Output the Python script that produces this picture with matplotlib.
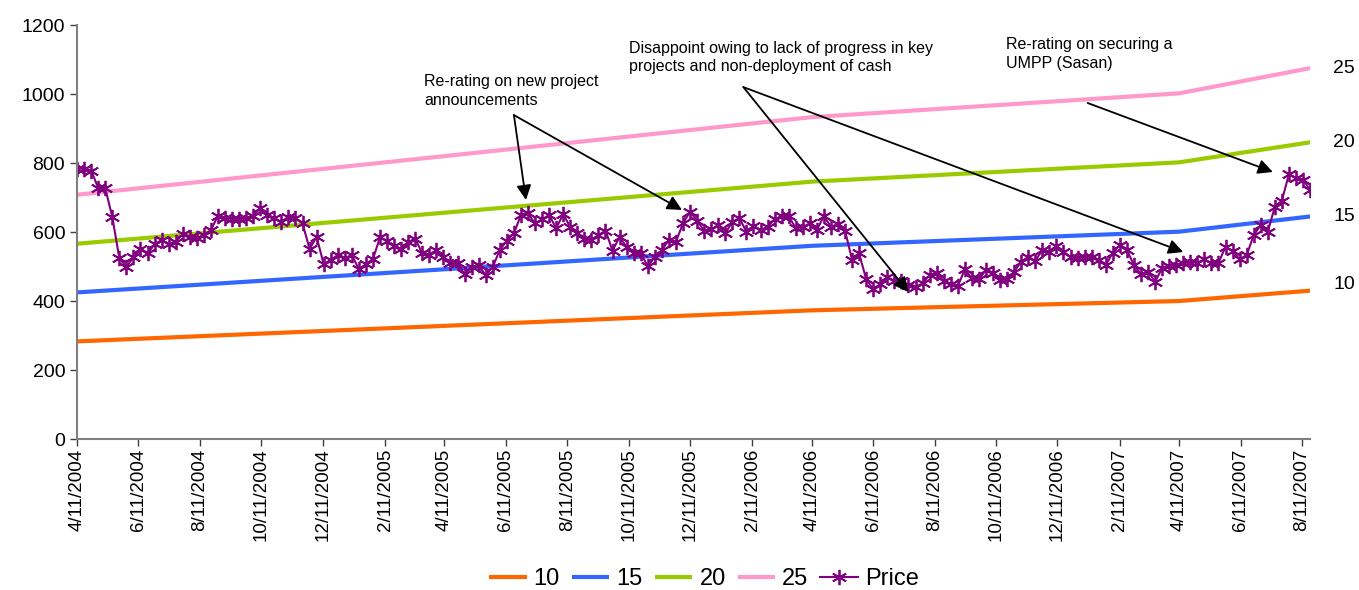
import numpy as np
import pandas as pd
import matplotlib
matplotlib.use("Agg")
import matplotlib.pyplot as plt
import matplotlib.dates as mdates
from matplotlib import transforms

plt.rcParams['font.family'] = ['Liberation Sans', 'DejaVu Sans']

# weekly closing price
price_start = "2004-04-11"
price = [
    784, 783, 778, 728, 727, 644, 524, 499, 527, 550, 538, 564, 577, 564, 572, 594,
    586, 582, 591, 606, 647, 641, 638, 638, 640, 647, 669, 649, 640, 630, 644,
    640, 625, 551, 586, 507, 519, 533, 524, 533, 492, 507, 522, 585, 575, 560, 551,
    570, 580, 538, 533, 548, 527, 509, 509, 478, 499, 504, 475, 499, 548,
    575, 596, 649, 654, 625, 637, 649, 611, 652, 614, 598, 579, 577, 591, 604, 546,
    586, 557, 538, 538, 501, 527, 548, 577, 572, 625, 659, 633, 604,
    608, 620, 596, 630, 640, 601, 617, 606, 615, 637, 646, 646, 611, 615, 625, 606,
    646, 615, 623, 604, 519, 538, 463, 434, 449, 469, 459, 458, 447, 441,
    451, 475, 482, 458, 448, 443, 492, 466, 463, 490, 482, 461, 463, 485, 514, 528,
    517, 548, 543, 559, 543, 527, 524, 528, 528, 519, 504, 540, 562,
    548, 504, 478, 485, 456, 495, 501, 504, 509, 514, 511, 521, 509, 511, 557, 545,
    521, 533, 591, 620, 601, 673, 691, 768, 756, 752, 722,
]
price_dates = pd.date_range(price_start, periods=len(price), freq="7D")

# P/E band values at the EPS reset dates
band_dates = pd.to_datetime(["2004-04-11", "2005-04-11", "2006-04-11",
                             "2007-04-11", str(price_dates[-1].date())])
band_10 = [283, 328, 373, 400, 430]
band_15 = [425, 492, 560, 601, 645]
band_20 = [566, 656, 746, 802, 860]
band_25 = [708, 820, 933, 1002, 1075]

band_labels = ["10", "15", "20", "25"]
band_colors = ["#FF6600", "#3366FF", "#99CC00", "#FF99CC"]

fig = plt.figure(figsize=(13.59, 5.9), dpi=100)
ax = fig.add_axes([0.0567, 0.2559, 0.9073, 0.7017])

for vals, lab, col in zip([band_10, band_15, band_20, band_25], band_labels, band_colors):
    ax.plot(band_dates, vals, color=col, lw=3, label=lab, solid_capstyle='butt')

ax.plot(price_dates, price, color="#800080", lw=1.5, marker=(6, 2, 0),
        markersize=11, markeredgewidth=1.3, label="Price")

ax.set_ylim(0, 1200)
ax.set_yticks(range(0, 1201, 200))
ax.set_xlim(pd.Timestamp("2004-04-11"), price_dates[-1])

ax.xaxis.set_major_locator(mdates.MonthLocator(bymonth=range(2, 13, 2), bymonthday=11))
ax.xaxis.set_major_formatter(plt.FuncFormatter(
    lambda x, pos: (lambda d: f"{d.month}/{d.day}/{d.year}")(mdates.num2date(x))))
plt.setp(ax.get_xticklabels(), rotation=90, fontsize=13.5)
plt.setp(ax.get_yticklabels(), fontsize=14)

for s in ["top", "right"]:
    ax.spines[s].set_visible(False)
for s in ["left", "bottom"]:
    ax.spines[s].set_color("#808080")
    ax.spines[s].set_linewidth(1.5)
ax.tick_params(axis="both", length=5, color="#404040", width=1)
ax.tick_params(axis="x", pad=2)

# multiple labels to the right of the bands
tr = transforms.blended_transform_factory(ax.transAxes, ax.transData)
for vals, lab in zip([band_10, band_15, band_20, band_25], band_labels):
    nudge = 18 if lab == "10" else 0
    ax.text(1.0186, vals[-1] + nudge, lab, transform=tr, fontsize=14,
            va="center", ha="left")

arrow = dict(arrowstyle="-|>", color="black", lw=1.3, mutation_scale=22,
             shrinkA=0, shrinkB=0)
d = pd.Timestamp

ax.text(d("2005-03-22"), 1058, "Re-rating on new project\nannouncements",
        fontsize=11.5, va="top", ha="left", linespacing=1.3)
ax.annotate("", xy=(d("2005-07-01"), 693), xytext=(d("2005-06-19"), 939), arrowprops=arrow)
ax.annotate("", xy=(d("2005-12-03"), 664), xytext=(d("2005-06-19"), 939), arrowprops=arrow)

ax.text(d("2005-10-11"), 1154,
        "Disappoint owing to lack of progress in key\nprojects and non-deployment of cash",
        fontsize=11.5, va="top", ha="left", linespacing=1.3)
ax.annotate("", xy=(d("2006-07-16"), 426), xytext=(d("2006-02-02"), 1020), arrowprops=arrow)
ax.annotate("", xy=(d("2007-04-15"), 542), xytext=(d("2006-02-02"), 1020), arrowprops=arrow)

ax.text(d("2006-10-21"), 1165, "Re-rating on securing a\nUMPP (Sasan)",
        fontsize=11.5, va="top", ha="left", linespacing=1.3)
ax.annotate("", xy=(d("2007-07-13"), 774), xytext=(d("2007-01-10"), 974), arrowprops=arrow)

fig.legend(loc="lower center", bbox_to_anchor=(0.518, -0.036), ncol=5, frameon=False,
           fontsize=17, handlelength=1.6, columnspacing=0.5, handletextpad=0.3)

fig.savefig("out.png", dpi=100)
